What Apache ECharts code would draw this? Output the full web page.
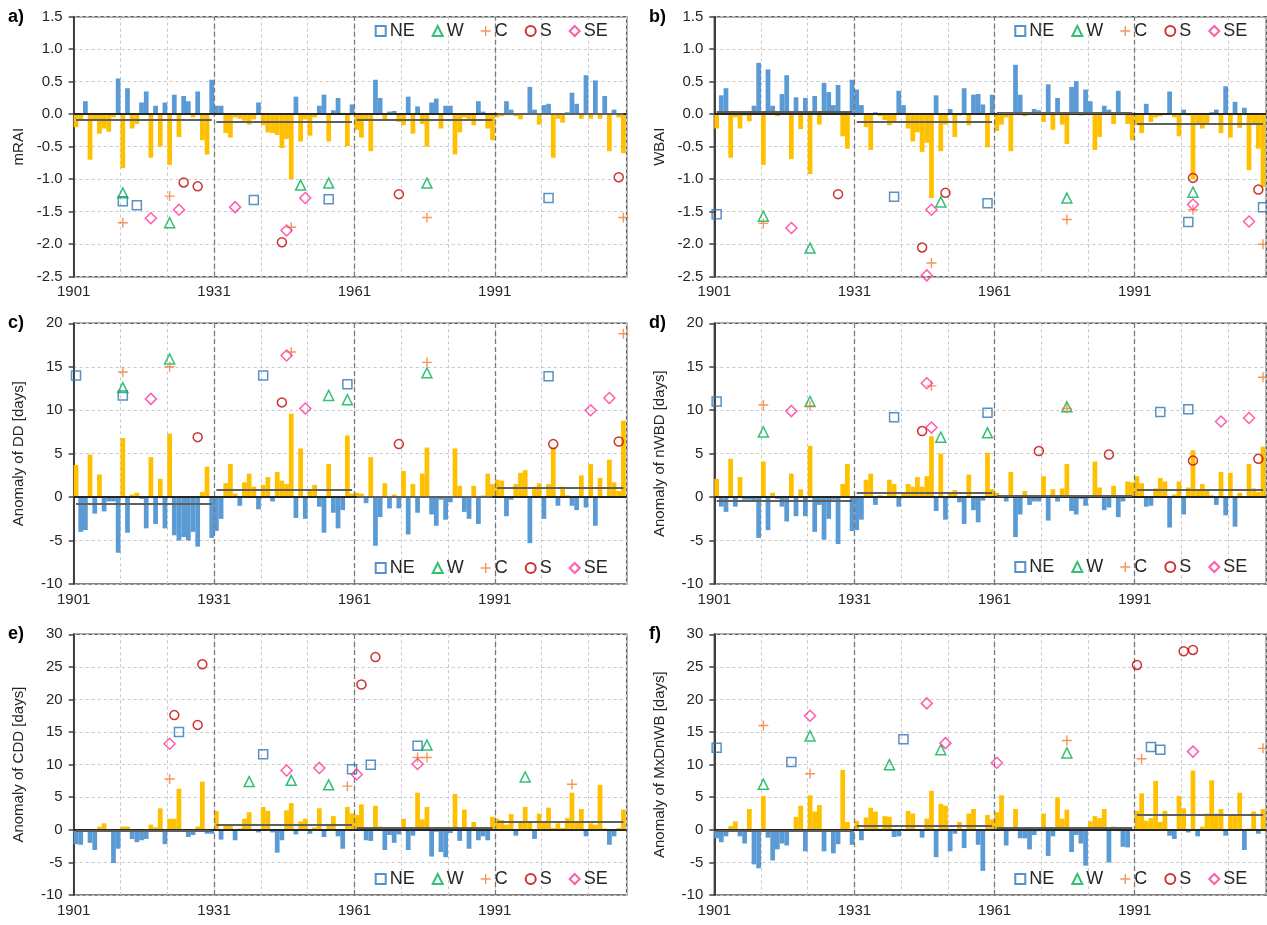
<!DOCTYPE html>
<html>
<head>
<meta charset="utf-8">
<script src="https://cdn.jsdelivr.net/npm/echarts@6/dist/echarts.min.js"></script>
<style>
  html, body { margin: 0; padding: 0; background: #fff; }
  #chart { width: 1267px; height: 925px; }
</style>
</head>
<body>
<div id="chart"></div>
<script>
// yearly anomalies 1901-2018
const barsA = [-0.2,-0.1,0.2,-0.7,-0.08,-0.3,-0.22,-0.27,-0.05,0.55,-0.83,0.4,-0.22,-0.15,0.18,0.35,-0.67,0.13,-0.5,0.18,-0.78,0.3,-0.35,0.28,0.2,-0.05,0.35,-0.4,-0.62,0.53,
  0.13,0.13,-0.29,-0.36,-0.05,-0.07,-0.1,-0.16,-0.08,0.18,-0.17,-0.28,-0.29,-0.32,-0.52,-0.38,-1.0,0.27,-0.42,-0.08,-0.33,-0.05,0.13,0.3,-0.42,0.06,0.25,0.02,-0.49,0.15,
  -0.24,-0.36,-0.1,-0.57,0.53,0.25,-0.1,0.04,0.05,-0.12,-0.17,0.27,-0.3,0.12,-0.15,-0.5,0.18,0.24,-0.22,0.13,0.13,-0.62,-0.28,-0.05,-0.08,-0.17,0.2,0.04,-0.22,-0.4,
  -0.05,-0.03,0.2,0.07,-0.03,-0.08,0.02,0.42,0.07,-0.16,0.14,0.16,-0.67,-0.07,-0.13,0.03,0.33,0.16,-0.07,0.6,-0.07,0.52,-0.07,0.28,-0.57,0.07,-0.05,-0.6]
const barsB = [-0.22,0.29,0.4,-0.67,-0.05,-0.22,-0.02,-0.11,0.13,0.79,-0.78,0.69,0.13,-0.03,0.31,0.6,-0.69,0.26,-0.23,0.25,-0.92,0.28,-0.16,0.48,0.34,0.14,0.45,-0.34,-0.53,0.53,
  0.38,0.14,-0.2,-0.55,0.03,-0.03,-0.09,-0.17,-0.13,0.36,0.14,-0.22,-0.42,-0.28,-0.58,-0.44,-1.29,0.29,-0.57,-0.16,0.08,-0.35,-0.02,0.4,-0.17,0.3,0.31,0.15,-0.51,0.3,
  -0.26,-0.16,-0.05,-0.57,0.76,0.3,-0.03,0.02,0.08,0.06,-0.12,0.46,-0.24,0.25,-0.16,-0.46,0.42,0.51,-0.02,0.38,0.2,-0.55,-0.35,0.13,0.07,-0.15,0.36,0.02,-0.15,-0.4,
  -0.17,-0.29,0.16,-0.12,-0.05,-0.03,0.0,0.35,-0.05,-0.34,0.07,-0.02,-1.0,-0.15,-0.22,-0.15,0.03,0.07,-0.29,0.43,-0.36,0.19,-0.21,0.1,-0.86,-0.15,-0.53,-1.12]
const barsC = [3.7,-4.0,-3.8,4.9,-1.9,2.6,-1.65,-0.5,-0.5,-6.4,6.8,-4.1,0.3,0.5,-0.2,-3.6,4.6,-3.1,2.1,-3.6,7.3,-4.4,-5.0,-4.6,-5.0,-4.0,-5.7,0.6,3.5,-4.7,
  -3.9,-2.5,1.6,3.8,0.4,-1.0,1.7,2.7,1.2,-1.4,1.4,2.3,-0.5,2.9,1.9,1.5,9.6,-2.4,5.6,-2.5,0.8,1.4,-1.1,-4.1,3.8,-1.8,-3.6,-1.5,7.1,0.4,
  0.5,0.4,-0.7,4.6,-5.6,-2.3,1.6,-1.3,0.3,-1.3,3.0,-4.3,1.5,-1.8,2.7,5.7,-2.0,-3.3,-0.3,-2.6,-0.6,5.6,1.3,-1.7,-2.5,1.3,-3.1,0.2,2.7,1.5,
  2.0,1.9,-2.2,-0.3,1.5,2.8,3.1,-5.3,1.2,1.6,-2.5,1.5,5.7,-1.0,1.2,0.2,-1.0,-1.5,2.5,-1.2,3.8,-3.3,2.2,0.1,4.3,1.7,0.7,8.8]
const barsD = [2.1,-1.1,-1.7,4.4,-1.1,2.3,-0.3,-0.3,-0.4,-4.7,4.1,-3.8,0.5,-0.2,-1.1,-2.8,2.7,-2.2,0.9,-2.2,5.9,-4.0,-0.9,-4.9,-2.5,-0.3,-5.4,1.5,3.8,-3.9,
  -3.8,-2.6,2.0,2.7,-0.9,0.2,0.1,2.0,1.5,-1.1,0.5,1.5,1.2,2.3,1.2,2.4,7.0,-1.6,5.0,-2.6,0.5,0.8,-0.6,-3.1,2.6,-1.5,-2.9,-0.4,5.1,0.9,
  0.5,0.2,-0.5,2.9,-4.6,-2.0,0.7,-0.9,-0.5,-0.5,2.4,-2.7,0.9,-0.5,1.0,3.8,-1.6,-2.0,-0.2,-1.0,0.2,4.1,1.1,-1.5,-1.2,1.3,-2.3,-0.5,1.8,1.7,
  2.4,1.6,-1.1,-1.0,1.0,2.2,1.8,-3.5,0.3,1.8,-2.0,1.1,5.4,0.7,1.5,0.7,0.2,-0.9,2.9,-2.1,2.8,-3.4,0.5,0.1,3.8,1.0,0.6,5.8]
const barsE = [-2.2,-2.3,-0.3,-2.0,-3.1,0.5,1.0,-0.2,-5.1,-2.9,0.5,0.5,-1.4,-1.9,-1.6,-1.4,0.8,0.4,3.3,-2.2,1.7,1.7,6.3,-0.2,-1.1,-0.8,0.5,7.4,-0.6,-0.6,
  2.9,-1.5,0.7,0.7,-1.6,0.2,1.7,2.7,0.1,-0.4,3.5,2.9,-0.4,-3.5,-1.6,3.0,4.1,-0.7,1.3,1.7,-0.6,0.4,3.3,-1.1,0.9,2.1,-1.0,-2.9,3.5,2.5,
  2.3,3.9,-1.6,-1.7,3.7,0.5,-3.1,-0.8,-2.0,-0.7,1.7,-3.1,-0.9,5.7,1.6,3.5,-4.1,-0.3,-3.4,-4.2,-0.5,5.5,-1.7,3.1,-2.9,1.2,-1.6,-1.0,-1.6,2.0,
  1.7,1.5,0.8,2.4,-0.9,1.3,3.5,1.3,-1.4,2.5,1.3,3.4,0.3,1.0,0.3,1.8,5.7,1.3,3.2,-1.0,1.0,0.8,6.9,0.2,-2.3,-1.0,0.3,3.1]
const barsF = [-1.3,-1.9,-1.0,0.6,1.3,-1.0,-2.1,3.2,-5.3,-5.9,5.2,-1.2,-4.7,-3.0,-2.1,-2.4,-0.3,2.0,3.7,-3.3,5.3,2.8,3.8,-3.3,-0.3,-3.6,-2.2,9.2,1.2,-2.3,
  1.4,-1.6,1.9,3.4,2.8,0.2,2.1,2.0,-1.1,-1.0,0.1,2.9,2.5,0.1,-1.2,1.7,6.0,-4.2,4.0,3.7,-3.3,-0.6,1.2,-2.8,2.5,3.2,-2.3,-6.3,2.3,1.6,
  2.7,5.3,-2.4,-0.2,3.2,-1.3,-1.3,-3.0,-0.8,-0.2,2.5,-4.0,-1.0,5.0,1.7,3.1,-3.4,-0.8,-2.1,-5.5,1.3,2.1,1.8,3.2,-5.0,0.5,-0.2,-2.6,-2.7,-0.2,
  2.9,5.6,1.4,1.8,7.5,1.2,2.9,-0.9,-1.4,5.2,3.3,-0.4,9.1,-1.0,0.5,2.5,7.6,2.5,3.2,-0.9,2.1,2.1,5.7,-3.1,0.2,2.8,-0.6,3.2]

// 30-year period means (1901-30, 1931-60, 1961-90, 1991-2018)
const meanA = [-0.09, -0.12, -0.08, 0.0]
const meanB = [0.04, -0.11, 0.02, -0.15]
const meanC = [-0.73, 0.8, 0.0, 1.1]
const meanD = [-0.46, 0.54, 0.1, 0.88]
const meanE = [-0.15, 0.8, 0.25, 1.3]
const meanF = [-0.15, 0.66, 0.3, 2.25]

// regional extremes [year, value]
const aNE = [[1911,-1.34],[1914,-1.4],[1939,-1.32],[1955,-1.31],[2002,-1.29]]
const aW = [[1911,-1.21],[1921,-1.67],[1949,-1.09],[1955,-1.06],[1976,-1.06]]
const aC = [[1911,-1.67],[1921,-1.26],[1947,-1.74],[1976,-1.59],[2018,-1.59]]
const aS = [[1924,-1.05],[1927,-1.11],[1945,-1.97],[1970,-1.23],[2017,-0.97]]
const aSE = [[1917,-1.6],[1923,-1.47],[1935,-1.43],[1946,-1.79],[1950,-1.29]]

const bNE = [[1901,-1.54],[1939,-1.27],[1959,-1.37],[2002,-1.66],[2018,-1.43]]
const bW = [[1911,-1.57],[1921,-2.06],[1949,-1.35],[1976,-1.29],[2003,-1.2]]
const bC = [[1911,-1.68],[1947,-2.29],[1976,-1.62],[2003,-1.47],[2018,-2.0]]
const bS = [[1927,-1.23],[1945,-2.05],[1950,-1.21],[2003,-0.98],[2017,-1.16]]
const bSE = [[1917,-1.75],[1946,-2.48],[1947,-1.47],[2003,-1.39],[2015,-1.65]]

const cNE = [[1901,14.0],[1911,11.7],[1941,14.0],[1959,13.0],[2002,13.9]]
const cW = [[1911,12.6],[1921,15.9],[1955,11.7],[1959,11.2],[1976,14.3]]
const cC = [[1911,14.4],[1921,15.0],[1947,16.7],[1976,15.5],[2018,18.8]]
const cS = [[1927,6.9],[1945,10.9],[1970,6.1],[2003,6.1],[2017,6.4]]
const cSE = [[1917,11.3],[1946,16.3],[1950,10.2],[2011,10.0],[2015,11.4]]

const dNE = [[1901,11.0],[1939,9.2],[1959,9.7],[1996,9.8],[2002,10.1]]
const dW = [[1911,7.5],[1921,11.0],[1949,6.9],[1959,7.4],[1976,10.4]]
const dC = [[1911,10.6],[1921,10.5],[1947,12.8],[1976,10.2],[2018,13.8]]
const dS = [[1945,7.6],[1970,5.3],[1985,4.9],[2003,4.2],[2017,4.4]]
const dSE = [[1917,9.9],[1946,13.1],[1947,8.0],[2009,8.7],[2015,9.1]]

const eNE = [[1923,15.0],[1941,11.6],[1960,9.3],[1964,10.0],[1974,12.9]]
const eW = [[1938,7.4],[1947,7.6],[1955,6.9],[1976,13.0],[1997,8.1]]
const eC = [[1921,7.8],[1959,6.7],[1974,11.1],[1976,11.1],[2007,7.0]]
const eS = [[1922,17.6],[1927,16.1],[1928,25.4],[1962,22.3],[1965,26.5]]
const eSE = [[1921,13.2],[1946,9.1],[1953,9.5],[1961,8.5],[1974,10.1]]

const fNE = [[1901,12.6],[1917,10.4],[1941,13.9],[1994,12.7],[1996,12.3]]
const fW = [[1911,7.0],[1921,14.4],[1938,10.0],[1949,12.3],[1976,11.8]]
const fC = [[1911,16.0],[1921,8.6],[1976,13.7],[1992,10.9],[2018,12.5]]
const fS = [[1991,25.3],[2001,27.4],[2003,27.6]]
const fSE = [[1921,17.5],[1946,19.4],[1950,13.3],[1961,10.3],[2003,12.0]]

const regions = ['NE', 'W', 'C', 'S', 'SE']
const tickYears = [1901, 1931, 1961, 1991]

const BLUE = '#5b9bd5'
const YELLOW = '#ffc000'
const FONT = 'Liberation Sans, Arial, sans-serif'

const regionStyle = {
  NE: { symbol: 'rect', size: 9, color: '#2e75b6' },
  W: { symbol: 'triangle', size: 10, color: '#00b050' },
  C: { symbol: 'path://M4.3,0H5.7V4.3H10V5.7H5.7V10H4.3V5.7H0V4.3H4.3Z', size: 10, color: '#ed7d31', filled: true },
  S: { symbol: 'circle', size: 9, color: '#c00000' },
  SE: { symbol: 'diamond', size: 11, color: '#ff3399' }
}

const panels = [
  { tag: 'a)', bars: barsA, means: meanA, marks: [aNE, aW, aC, aS, aSE], pos: BLUE, neg: YELLOW, name: 'mRAI', min: -2.5, max: 1.5, step: 0.5, dec: 1, legendTop: 22 },
  { tag: 'b)', bars: barsB, means: meanB, marks: [bNE, bW, bC, bS, bSE], pos: BLUE, neg: YELLOW, name: 'WBAI', min: -2.5, max: 1.5, step: 0.5, dec: 1, legendTop: 22 },
  { tag: 'c)', bars: barsC, means: meanC, marks: [cNE, cW, cC, cS, cSE], pos: YELLOW, neg: BLUE, name: 'Anomaly of DD [days]', min: -10, max: 20, step: 5, dec: 0, legendTop: 559 },
  { tag: 'd)', bars: barsD, means: meanD, marks: [dNE, dW, dC, dS, dSE], pos: YELLOW, neg: BLUE, name: 'Anomaly of nWBD [days]', min: -10, max: 20, step: 5, dec: 0, legendTop: 558 },
  { tag: 'e)', bars: barsE, means: meanE, marks: [eNE, eW, eC, eS, eSE], pos: YELLOW, neg: BLUE, name: 'Anomaly of CDD [days]', min: -10, max: 30, step: 5, dec: 0, legendTop: 870 },
  { tag: 'f)', bars: barsF, means: meanF, marks: [fNE, fW, fC, fS, fSE], pos: YELLOW, neg: BLUE, name: 'Anomaly of MxDnWB [days]', min: -10, max: 30, step: 5, dec: 0, legendTop: 870 }
]

const gridPos = [
  { left: 73.7, top: 16.7, width: 553, height: 260 },
  { left: 714.3, top: 16.7, width: 552, height: 260 },
  { left: 73.7, top: 323.3, width: 553, height: 260.7 },
  { left: 714.3, top: 323.3, width: 552, height: 260.7 },
  { left: 73.7, top: 634.3, width: 553, height: 260.7 },
  { left: 714.3, top: 634.3, width: 552, height: 260.7 }
]
const XMAX = 118.2
const toX = yr => yr - 1901 + 0.5

const grid = [], xAxis = [], yAxis = [], series = [], legend = [], title = []

panels.forEach((p, i) => {
  const g = gridPos[i]
  grid.push(Object.assign({ show: true, borderColor: '#595959', borderWidth: 1.5, backgroundColor: '#fff' }, g))

  xAxis.push({
    type: 'value', gridIndex: i, min: 0, max: XMAX, interval: 10,
    axisLine: { show: false }, axisTick: { show: false },
    axisLabel: {
      margin: 8, fontSize: 15, color: '#262626', fontFamily: FONT, showMaxLabel: false,
      formatter: v => tickYears.indexOf(v + 1901) >= 0 ? String(v + 1901) : ''
    },
    splitLine: { show: true, lineStyle: { color: '#c8c8c8', type: [3, 3], width: 1 } }
  })

  yAxis.push({
    type: 'value', gridIndex: i, min: p.min, max: p.max, interval: p.step,
    name: p.name, nameLocation: 'middle', nameGap: 47, nameRotate: 90,
    nameTextStyle: { fontSize: 15, color: '#262626', fontFamily: FONT },
    axisLine: { show: true, lineStyle: { color: '#404040', width: 2 } },
    axisTick: { show: true, length: 5, lineStyle: { color: '#404040', width: 1.5 } },
    axisLabel: { margin: 11, fontSize: 15, color: '#262626', fontFamily: FONT, formatter: v => v.toFixed(p.dec) },
    splitLine: { show: true, lineStyle: { color: '#c8c8c8', type: [3, 3], width: 1 } }
  })

  // major 30-year boundaries
  series.push({
    type: 'line', xAxisIndex: i, yAxisIndex: i, data: [[0, 0]], showSymbol: false, silent: true, z: 1,
    lineStyle: { opacity: 0 },
    markLine: {
      silent: true, symbol: 'none', label: { show: false },
      lineStyle: { color: '#7a7a7a', type: [5, 3], width: 1.3 },
      data: [30, 60, 90].map(v => ({ xAxis: v }))
    }
  })

  const meanLines = p.means.map((m, k) => [
    { coord: [k * 30 + 0.5, m] },
    { coord: [Math.min(k * 30 + 29.5, p.bars.length - 0.5), m] }
  ])

  series.push({
    type: 'bar', xAxisIndex: i, yAxisIndex: i, barWidth: 4.75, z: 2,
    data: p.bars.map((v, n) => ({ value: [n + 0.5, v], itemStyle: { color: v >= 0 ? p.pos : p.neg } })),
    markLine: {
      silent: true, symbol: 'none', label: { show: false }, animation: false,
      data: [{ yAxis: 0, lineStyle: { color: '#262626', width: 2, type: 'solid' } }]
        .concat(meanLines.map(seg => [
          Object.assign({ lineStyle: { color: '#5f5f5f', width: 2, type: 'solid' } }, seg[0]), seg[1]
        ]))
    }
  })

  regions.forEach((r, k) => {
    const st = regionStyle[r]
    series.push({
      type: 'scatter', name: r, xAxisIndex: i, yAxisIndex: i, z: 5,
      symbol: st.symbol, symbolSize: st.size, symbolKeepAspect: true,
      itemStyle: st.filled
        ? { color: st.color, borderWidth: 0 }
        : { color: 'rgba(255,255,255,0)', borderColor: st.color, borderWidth: 1.5 },
      data: p.marks[k].map(d => [toX(d[0]), d[1]])
    })
  })

  legend.push({
    data: regions, left: g.left + (i % 2 === 0 ? 301 : 300), top: p.legendTop,
    orient: 'horizontal', itemWidth: 10, itemHeight: 10, itemGap: 17, padding: 0,
    selectedMode: false,
    textStyle: { fontSize: 18, color: '#262626', fontFamily: FONT, padding: [0, 0, 0, -1] }
  })

  title.push({
    text: p.tag, left: i % 2 === 0 ? 8 : 649, top: g.top - 9, padding: 0,
    textStyle: { fontSize: 18, fontWeight: 'bold', color: '#000', fontFamily: FONT }
  })
})

const chart = echarts.init(document.getElementById('chart'), null, { renderer: 'canvas' })
chart.setOption({
  animation: false,
  backgroundColor: '#fff',
  textStyle: { fontFamily: FONT },
  title, legend, grid, xAxis, yAxis, series
})
</script>
</body>
</html>
